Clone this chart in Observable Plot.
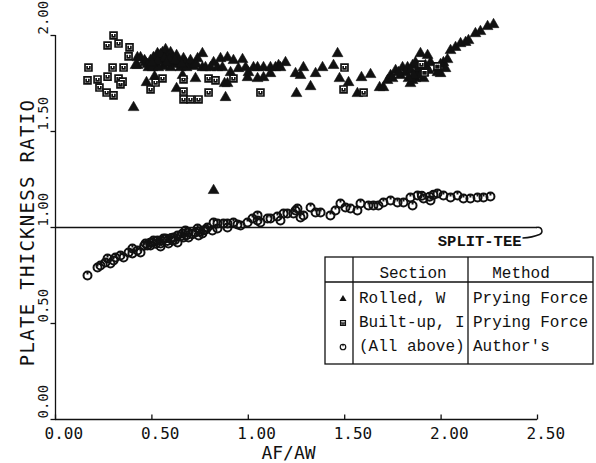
<!DOCTYPE html>
<html><head><meta charset="utf-8">
<script src="https://cdn.jsdelivr.net/npm/d3@7"></script>
<script src="https://cdn.jsdelivr.net/npm/@observablehq/plot@0.6"></script>
<style>html,body{margin:0;padding:0;background:#fff;} svg{display:block}</style>
</head><body><div id="chart"></div>
<script>
// ---- data (AF/AW, plate thickness ratio) ----
const rolledW = [
[0.405,1.625],[0.820,1.193],
[0.425,1.885],[0.441,1.885],[0.462,1.870],[0.467,1.859],[0.425,1.844],[0.415,1.844],[0.482,1.833],[0.514,1.786],[0.472,1.755],[0.628,1.724],[0.726,1.776],[0.762,1.906],[0.737,1.880],[0.820,1.859],[0.856,1.880],[0.892,1.885],[0.923,1.870],[0.970,1.875],[0.882,1.677],[0.908,1.807],[0.996,1.781],[1.001,1.807],[1.048,1.833],[1.079,1.833],[1.115,1.833],[1.193,1.859],[1.115,1.802],[1.245,1.802],[1.250,1.698],[0.877,1.750],[0.892,1.750],[0.659,1.792],[0.529,1.906],[0.597,1.896],[0.612,1.870],[0.664,1.880],[0.648,1.833],[0.700,1.844],[0.762,1.833],[0.840,1.833],[0.949,1.828],[1.027,1.833],[1.157,1.844],[1.079,1.781],[1.048,1.776],[1.271,1.792],[1.286,1.833],[1.349,1.802],[1.385,1.833],[1.323,1.734],[1.463,1.906],[1.442,1.844],[1.473,1.776],[1.520,1.755],[1.587,1.781],[1.634,1.797],[1.566,1.698],[1.681,1.729],[1.701,1.729],[1.722,1.766],[1.738,1.792],[1.764,1.818],[1.800,1.833],[1.826,1.833],[1.852,1.844],[1.841,1.750],[1.867,1.776],[1.893,1.906],[1.930,1.896],[1.867,1.859],[1.909,1.807],[1.909,1.776],[1.878,1.807],[1.852,1.766],[1.981,1.828],[1.997,1.802],[2.012,1.859],[2.033,1.875],[2.049,1.922],[2.075,1.938],[2.101,1.958],[2.127,1.964],[2.142,1.974],[2.178,2.010],[2.204,2.021],[2.241,2.047],[2.272,2.057],
[0.477,1.849],[0.493,1.870],[0.508,1.885],[0.519,1.849],[0.534,1.896],[0.545,1.870],[0.555,1.911],[0.560,1.839],[0.571,1.927],[0.581,1.891],[0.586,1.859],[0.597,1.911],[0.607,1.880],[0.617,1.849],[0.628,1.896],[0.638,1.865],[0.674,1.859],[0.690,1.844],[0.700,1.870],[0.716,1.839],[0.731,1.849],[0.503,1.833],[0.534,1.833],[0.597,1.833],[0.680,1.833],
[0.778,1.833],[0.804,1.833],[0.866,1.833],[0.986,1.833],[1.141,1.833],[1.167,1.833],
[1.815,1.807],[1.841,1.818],[1.883,1.828],[1.893,1.792],[1.919,1.844],[1.935,1.818],[1.945,1.859],[1.857,1.792],[1.831,1.776],[1.789,1.792],[1.779,1.807],[1.748,1.776],[1.997,1.849],[2.023,1.828],[1.981,1.807],
[0.545,1.901],[0.565,1.880],[0.590,1.875],[0.620,1.870],[0.655,1.850],[0.575,1.855],[0.530,1.865],[0.500,1.855]
];
const builtUpI = [
[0.301,2.000],[0.270,1.948],[0.327,1.958],[0.384,1.938],[0.379,1.891],[0.171,1.833],[0.296,1.833],[0.353,1.833],[0.166,1.766],[0.218,1.771],[0.270,1.786],[0.228,1.729],[0.265,1.703],[0.301,1.688],[0.327,1.776],[0.348,1.760],[0.337,1.745],[0.493,1.719],[0.519,1.755],[0.555,1.776],[0.664,1.771],[0.664,1.708],[0.664,1.667],[0.700,1.667],[0.742,1.667],[0.794,1.776],[0.830,1.766],[0.794,1.703],[0.923,1.776],[1.063,1.703],[1.499,1.833],[1.494,1.719],[1.598,1.703],[1.898,1.849],[1.914,1.807],[1.981,1.839]
];
const authors = [
[0.166,0.750],[0.218,0.792],[0.233,0.802],[0.259,0.818],[0.270,0.839],[0.285,0.813],[0.301,0.828],[0.311,0.844],[0.337,0.854],[0.353,0.844],[0.379,0.870],[0.399,0.865],[0.399,0.891],[0.425,0.880],[0.441,0.870],[0.467,0.917],[0.477,0.906],[0.493,0.906],[0.503,0.922],[0.508,0.932],[0.529,0.932],[0.545,0.901],[0.545,0.917],[0.560,0.943],[0.571,0.943],[0.586,0.917],[0.607,0.932],[0.612,0.948],[0.633,0.922],[0.633,0.958],[0.659,0.969],[0.664,0.948],[0.674,0.984],[0.690,0.948],[0.690,0.974],[0.726,0.974],[0.737,0.995],[0.742,0.958],[0.762,0.969],[0.768,0.984],[0.788,1.000],[0.814,0.984],[0.820,1.026],[0.840,0.995],[0.840,1.021],[0.871,1.021],[0.892,1.000],[0.892,1.021],[0.923,1.026],[0.944,1.016],[0.960,1.010],[0.996,1.026],[1.022,1.047],[1.048,1.063],[1.048,1.036],[1.063,1.026],[1.100,1.047],[1.115,1.047],[1.151,1.057],[1.167,1.036],[1.183,1.073],[1.203,1.073],[1.234,1.073],[1.245,1.089],[1.255,1.099],[1.271,1.052],[1.286,1.063],[1.323,1.104],[1.349,1.078],[1.375,1.078],[1.426,1.063],[1.452,1.089],[1.478,1.125],[1.504,1.104],[1.530,1.099],[1.566,1.089],[1.582,1.125],[1.623,1.115],[1.649,1.115],[1.675,1.115],[1.701,1.130],[1.738,1.141],[1.774,1.130],[1.805,1.130],[1.841,1.156],[1.852,1.115],[1.878,1.167],[1.909,1.151],[1.945,1.141],[1.981,1.177],[2.012,1.167],[2.049,1.156],[2.085,1.167],[2.116,1.151],[2.152,1.151],[2.189,1.156],[2.220,1.156],[2.256,1.161],
[0.460,0.905],[0.490,0.920],[0.520,0.915],[0.550,0.930],[0.580,0.930],[0.600,0.945],[0.620,0.935],[0.650,0.955],[0.680,0.960],[0.710,0.965],[0.750,0.980],[0.780,0.990],[1.900,1.165],[1.940,1.160],[1.960,1.170]
];
const xTicks = [0, 0.5, 1, 1.5, 2, 2.5];
const yTicks = [0, 0.5, 1, 1.5, 2];
const splitTee = [1.0];
const legendSymbols = ["rolled", "built", "author"];
const legendSections = ["Rolled, W", "Built-up, I", "(All above)"];
const legendMethods = ["Prying Force", "Prying Force", "Author's"];

const ink = "#111";
const fmt = d3.format(".2f");

// ---- custom plotter-like symbols ----
const squareU = {draw(c, size) {
  const s = Math.sqrt(size) / 2;
  c.moveTo(-s, -s); c.lineTo(s, -s); c.lineTo(s, s); c.lineTo(-s, s); c.closePath();
  const a = s * 0.4;
  c.moveTo(-a, -s * 0.45); c.lineTo(-a, a); c.lineTo(a, a); c.lineTo(a, -s * 0.45);
}};
const circleTick = {draw(c, size) {
  const r = Math.sqrt(size / Math.PI);
  c.moveTo(r, 0); c.arc(0, 0, r, 0, 2 * Math.PI);
  c.moveTo(0, -r); c.lineTo(0, -r * 0.25);
}};
const tickUp = {draw(c) { c.moveTo(0, 0); c.lineTo(0, -5); }};
const tickLeft = {draw(c) { c.moveTo(0, 0); c.lineTo(-5, 0); }};
const hook = {draw(c) {
  c.moveTo(-1, 0);
  c.bezierCurveTo(5, -1, 6, 5, 2, 7);
  c.quadraticCurveTo(-5, 10, -15, 10.5);
}};

const chart = Plot.plot({
  width: 596, height: 463,
  marginLeft: 55, marginRight: 59, marginTop: 35, marginBottom: 44,
  style: {background: "white"},
  x: {domain: [0, 2.5], axis: null},
  y: {domain: [0, 2], axis: null},
  marks: [
    Plot.ruleY([0], {x1: 0, x2: 2.5, stroke: ink, strokeWidth: 1.3}),
    Plot.ruleX([0], {y1: 0, y2: 2, stroke: ink, strokeWidth: 1.3}),
    Plot.dot(xTicks, {x: d => d, y: 0, symbol: tickUp, r: 3, stroke: ink, fill: "none", strokeWidth: 1.3}),
    Plot.dot(yTicks, {x: 0, y: d => d, symbol: tickLeft, r: 3, stroke: ink, fill: "none", strokeWidth: 1.3}),
    Plot.text(xTicks, {x: d => d, y: 0, text: d => fmt(d), textAnchor: "start", lineAnchor: "bottom", dx: -11, dy: 19,
      fontFamily: "DejaVu Sans Mono", fontSize: 16, fill: ink}),
    Plot.text(yTicks, {x: 0, y: d => d, text: d => fmt(d), rotate: -90, textAnchor: "start", lineAnchor: "bottom", dx: -8, dy: -1,
      fontFamily: "DejaVu Sans Mono", fontSize: 14, fill: ink}),
    Plot.text(["PLATE THICKNESS RATIO"], {frameAnchor: "left", rotate: -90, textAnchor: "middle", lineAnchor: "bottom", dx: -22, dy: 5,
      fontFamily: "DejaVu Sans Mono", fontSize: 19, fill: ink}),
    Plot.text(["AF/AW"], {frameAnchor: "bottom", textAnchor: "middle", lineAnchor: "bottom", dx: -8, dy: 39,
      fontFamily: "DejaVu Sans Mono", fontSize: 18, fill: ink}),
    // split-tee reference line
    Plot.ruleY(splitTee, {x1: 0, x2: 2.5, stroke: ink, strokeWidth: 1.3}),
    Plot.dot(splitTee, {x: 2.5, y: d => d, symbol: hook, r: 3, stroke: ink, fill: "none", strokeWidth: 1.5}),
    Plot.text(["SPLIT-TEE"], {x: 2.5, y: splitTee[0], textAnchor: "end", lineAnchor: "bottom", dx: -16, dy: 18,
      fontFamily: "Liberation Mono", fontSize: 15.5, fontWeight: "bold", fill: ink}),
    // data
    Plot.dot(authors, {x: d => d[0], y: d => d[1], symbol: circleTick, r: 4.0, stroke: ink, fill: "none", strokeWidth: 2}),
    Plot.dot(rolledW, {x: d => d[0], y: d => d[1], symbol: "triangle", r: 4.0, fill: ink, stroke: ink, strokeWidth: 0.6}),
    Plot.dot(builtUpI, {x: d => d[0], y: d => d[1], symbol: squareU, r: 3.9, fill: "white", stroke: ink, strokeWidth: 1.7})
  ]
});
document.getElementById("chart").appendChild(chart);

// letter spacing for the y title
d3.select(chart).selectAll("text").filter(function() { return this.textContent === "PLATE THICKNESS RATIO"; })
  .attr("letter-spacing", 1.3);

// ---- legend table ----
const svg = d3.select(chart);
const lg = svg.append("g").attr("fill", "none").attr("stroke", ink).attr("stroke-width", 1.3);
const L = {x0: 325, x1: 593, y0: 257, y1: 364, yh: 282, c1: 353, c2: 468};
lg.append("rect").attr("x", L.x0).attr("y", L.y0).attr("width", L.x1 - L.x0).attr("height", L.y1 - L.y0).attr("fill", "white");
lg.append("line").attr("x1", L.x0).attr("x2", L.x1).attr("y1", L.yh).attr("y2", L.yh);
lg.append("line").attr("x1", L.c1).attr("x2", L.c1).attr("y1", L.y0).attr("y2", L.y1);
lg.append("line").attr("x1", L.c2).attr("x2", L.c2).attr("y1", L.y0).attr("y2", L.y1);
const tg = svg.append("g").attr("font-family", "Liberation Mono").attr("font-size", 16)
  .attr("fill", ink).attr("text-anchor", "start");
tg.append("text").attr("x", 413).attr("y", 278).attr("text-anchor", "middle").text("Section");
tg.append("text").attr("x", 521).attr("y", 278).attr("text-anchor", "middle").text("Method");
const symTypes = {rolled: d3.symbolTriangle, built: squareU, author: circleTick};
legendSections.forEach((s, i) => {
  const y = 303 + i * 24;
  tg.append("text").attr("x", 359).attr("y", y).attr("text-anchor", "start").text(s);
  tg.append("text").attr("x", 473).attr("y", y).attr("text-anchor", "start").text(legendMethods[i]);
  const k = legendSymbols[i];
  const p = svg.append("path")
    .attr("transform", `translate(343,${y - 4})`)
    .attr("d", d3.symbol().type(symTypes[k]).size(k === "rolled" ? 22 : 24)());
  if (k === "rolled") p.attr("fill", ink);
  else p.attr("fill", "white").attr("stroke", ink).attr("stroke-width", 1.2);
});
</script></body></html>
